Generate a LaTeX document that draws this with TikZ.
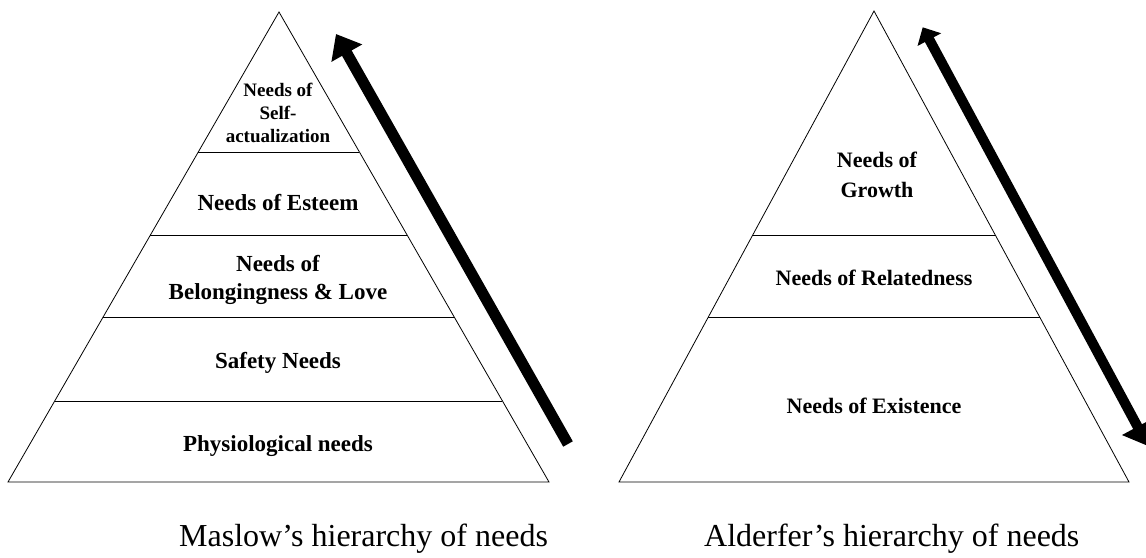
\documentclass[tikz,border=0pt]{standalone}
\usepackage{fontspec}
\setmainfont{Liberation Serif}
\usetikzlibrary{arrows.meta,calc}

\begin{document}
\begin{tikzpicture}[x=1pt,y=-1pt,
  outline/.style={line width=0.8pt, line join=miter},
  divider/.style={line width=0.8pt},
  level/.style={font=\bfseries\fontsize{23}{27.3}\selectfont, align=center, anchor=base, inner sep=0pt},
  smalllevel/.style={font=\bfseries\fontsize{19}{23}\selectfont, align=center, anchor=base, inner sep=0pt},
  rlevel/.style={font=\bfseries\fontsize{22}{30}\selectfont, align=center, anchor=base, inner sep=0pt},
  caption/.style={font=\fontsize{32}{36}\selectfont, anchor=base west, inner sep=0pt},
  uparrow/.style={line width=11pt, -{Triangle[length=22pt,width=34pt]}},
  twoway/.style={line width=10pt, {Triangle[length=14pt,width=26pt]}-{Triangle[length=22pt,width=34pt]}}
]
\useasboundingbox (0,0) rectangle (1146,557);

% Maslow pyramid
\coordinate (LA) at (279,12);
\coordinate (LL) at (8,482);
\coordinate (LR) at (549,482);
\draw[outline] (LA) -- (LL) -- (LR) -- cycle;
\foreach \t in {0.2979,0.4745,0.6489,0.8277}
  \draw[divider] ($(LA)!\t!(LL)$) -- ($(LA)!\t!(LR)$);

% multi-line labels sit on the baseline of their last line
\node[smalllevel] (selfact) at (278,142) {Needs of\\Self-\\actualization};
\node[level] (esteem) at (278,210) {Needs of Esteem};
\node[level] (belong) at (278,299) {Needs of\\Belongingness \& Love};
\node[level] (safety) at (278,368) {Safety Needs};
\node[level] (physio) at (278,451) {Physiological needs};

\coordinate (mtail) at (568,444);
\coordinate (mhead) at (336,34);
\draw[uparrow] (mtail) -- (mhead);

% Alderfer pyramid
\coordinate (RA) at (874,11);
\coordinate (RL) at (619,482);
\coordinate (RR) at (1129,482);
\draw[outline] (RA) -- (RL) -- (RR) -- cycle;
\foreach \t in {0.4756,0.6497}
  \draw[divider] ($(RA)!\t!(RL)$) -- ($(RA)!\t!(RR)$);

\node[rlevel] (growth) at (877,197) {Needs of\\Growth};
\node[rlevel] (related) at (874,285) {Needs of Relatedness};
\node[rlevel] (exist) at (874,413) {Needs of Existence};

\coordinate (atop) at (922.7,27.3);
\coordinate (abot) at (1148,446);
\draw[twoway] (atop) -- (abot);

% Captions
\node[caption] (maslow) at (179,546) {Maslow’s hierarchy of needs};
\node[caption] (alderfer) at (704,546) {Alderfer’s hierarchy of needs};
\end{tikzpicture}
\end{document}
